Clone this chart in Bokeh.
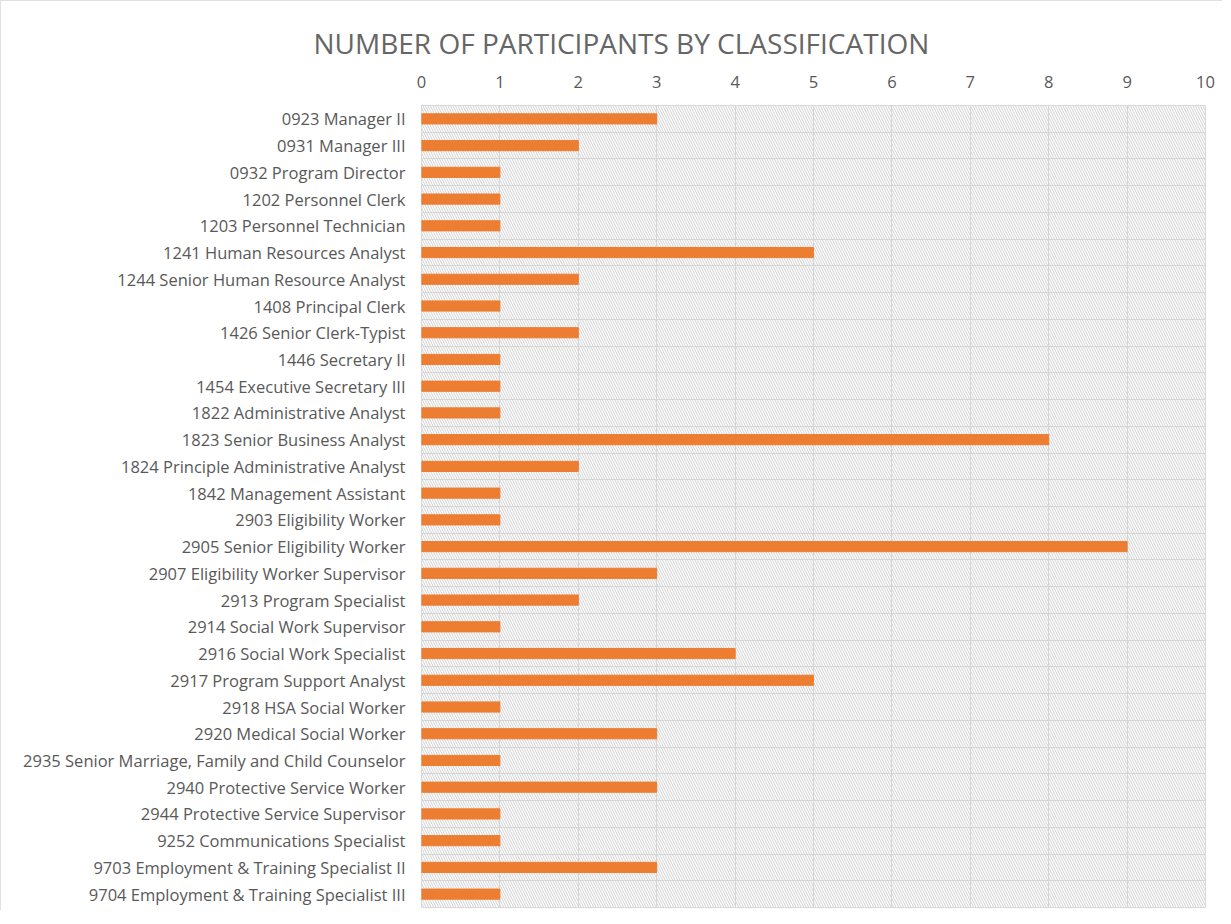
from bokeh.plotting import figure
from bokeh.models import Range1d, FixedTicker, Title
from bokeh.embed import file_html
from bokeh.resources import INLINE

categories = [
    "0923 Manager II",
    "0931 Manager III",
    "0932 Program Director",
    "1202 Personnel Clerk",
    "1203 Personnel Technician",
    "1241 Human Resources Analyst",
    "1244 Senior Human Resource Analyst",
    "1408 Principal Clerk",
    "1426 Senior Clerk-Typist",
    "1446 Secretary II",
    "1454 Executive Secretary III",
    "1822 Administrative Analyst",
    "1823 Senior Business Analyst",
    "1824 Principle Administrative Analyst",
    "1842 Management Assistant",
    "2903 Eligibility Worker",
    "2905 Senior Eligibility Worker",
    "2907 Eligibility Worker Supervisor",
    "2913 Program Specialist",
    "2914 Social Work Supervisor",
    "2916 Social Work Specialist",
    "2917 Program Support Analyst",
    "2918 HSA Social Worker",
    "2920 Medical Social Worker",
    "2935 Senior Marriage, Family and Child Counselor",
    "2940 Protective Service Worker",
    "2944 Protective Service Supervisor",
    "9252 Communications Specialist",
    "9703 Employment & Training Specialist II",
    "9704 Employment & Training Specialist III",
]
participants = [3, 2, 1, 1, 1, 5, 2, 1, 2, 1, 1, 1, 8, 2, 1, 1, 9, 3, 2, 1, 4, 5, 1, 3, 1, 3, 1, 1, 3, 1]
x_ticks = list(range(0, 11))

n = len(categories)
ypos = [i + 0.5 for i in range(n)]

FONT = "Open Sans"
GREY = "#595959"

p = figure(width=1222, height=910, output_backend="svg", toolbar_location=None,
           x_range=Range1d(0, 10), y_range=Range1d(n, 0),
           x_axis_location="above", tools="")
p.min_border_left = 420
p.min_border_right = 18
p.min_border_top = 104
p.min_border_bottom = 4
p.styles = {"border-top": "1px solid #e0e0e0", "border-left": "1px solid #e0e0e0"}

p.title = Title(text="NUMBER OF PARTICIPANTS BY CLASSIFICATION", align="left", offset=-108,
                text_font=FONT, text_font_size="28px", text_color="#666666", text_font_style="normal",
                standoff=22)

# hatched plot-area background
p.quad(left=[0], right=[10], bottom=[0], top=[n], fill_alpha=0, line_alpha=0,
       hatch_pattern="left_diagonal_line", hatch_color="#d0d0d0", hatch_scale=5, hatch_weight=1)

p.hbar(y=ypos, right=participants, left=0, height=0.38, color="#ED7D31")

p.xaxis.ticker = FixedTicker(ticks=x_ticks)
p.yaxis.ticker = FixedTicker(ticks=ypos)
p.yaxis.major_label_overrides = {y: c for y, c in zip(ypos, categories)}
for ax in (p.xaxis[0], p.yaxis[0]):
    ax.axis_line_color = None
    ax.major_tick_line_color = None
    ax.minor_tick_line_color = None
    ax.major_label_text_font = FONT
    ax.major_label_text_font_size = "16.5px"
    ax.major_label_text_color = GREY
p.yaxis.major_label_standoff = 10
p.xaxis.major_label_standoff = 12

p.xgrid.ticker = FixedTicker(ticks=x_ticks)
p.ygrid.ticker = FixedTicker(ticks=list(range(n + 1)))
p.grid.grid_line_color = "#d9d9d9"
p.grid.grid_line_width = 1
p.outline_line_color = "#d9d9d9"
p.background_fill_color = "white"
p.border_fill_color = "white"

open("out.html", "w").write(file_html(p, INLINE))
